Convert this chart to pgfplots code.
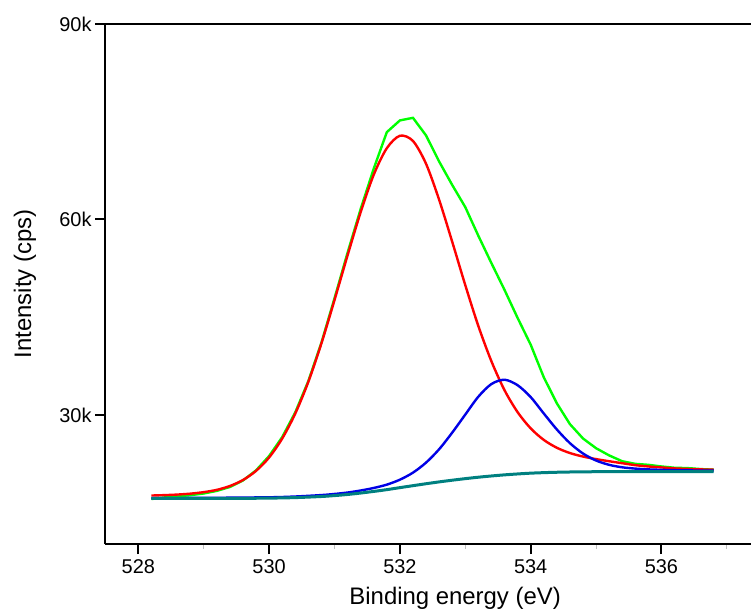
\documentclass[border=0pt]{standalone}
\usepackage{pgfplots}
\pgfplotsset{compat=1.18}
\usepackage{fontspec}
\setmainfont{Liberation Sans}
\usetikzlibrary{calc}
\definecolor{cgreen}{RGB}{0,255,0}
\definecolor{cred}{RGB}{255,0,0}
\definecolor{cblue}{RGB}{0,0,230}
\definecolor{cteal}{RGB}{0,128,128}
\begin{document}
\begin{tikzpicture}
\begin{axis}[
  scale only axis, width=646bp, height=520bp,
  xmin=527.49, xmax=537.37, ymin=10.2, ymax=90,
  axis x line*=box, axis y line*=left,
  axis line style={-, line width=2bp, black},
  tick pos=left, tick align=outside,
  major tick length=10bp, minor tick length=5bp,
  every major tick/.style={line width=2bp, black},
  every minor tick/.style={line width=1bp, black!25},
  xtick={528,530,532,534,536}, xticklabels={528,530,532,534,536},
  minor xtick={529,531,533,535,537},
  ytick={30,60,90}, yticklabels={30k,60k,90k},
  ticklabel style={font=\fontsize{20}{24}\selectfont},
  xticklabel style={yshift=-2bp},
  /pgf/number format/assume math mode=true,
  xlabel={Binding energy (eV)}, ylabel={Intensity (cps)},
  label style={font=\fontsize{24}{28}\selectfont},
  xlabel style={at={(axis description cs:0.542,-0.104)}, anchor=center},
  ylabel style={at={(axis description cs:-0.124,0.5)}, anchor=center},
  clip=false,
]
\addplot[cgreen, line width=2.4bp] coordinates {
(528.2,17.1)(528.4,17.35)(528.6,17.5)(528.8,17.7)(529.0,17.95)(529.2,18.35)(529.4,18.95)(529.6,19.95)(529.8,21.5)
(530.0,23.7)(530.2,26.6)(530.4,30.4)(530.6,35.2)(530.8,41.1)(531.0,47.9)(531.2,54.9)(531.4,61.6)(531.6,67.8)(531.8,73.4)
(532.0,75.2)(532.2,75.6)(532.4,72.9)(532.6,68.9)(532.8,65.3)(533.0,61.9)(533.2,57.5)(533.4,53.3)(533.6,49.2)(533.8,44.9)
(534.0,40.8)(534.2,35.8)(534.4,31.8)(534.6,28.6)(534.8,26.4)(535.0,24.9)(535.2,23.8)(535.4,22.9)(535.6,22.5)(535.8,22.35)
(536.0,22.1)(536.2,21.9)(536.4,21.85)(536.6,21.7)(536.8,21.6)};
\addplot[cred, line width=2.4bp, smooth] coordinates {
(528.2,17.64)(528.4,17.70)(528.6,17.79)(528.8,17.93)(529.0,18.16)(529.2,18.51)(529.4,19.10)(529.6,20.02)(529.8,21.42)
(530.0,23.48)(530.2,26.38)(530.4,30.22)(530.6,35.09)(530.8,40.99)(531.0,47.63)(531.2,54.5)(531.4,61.12)(531.6,66.87)(531.8,70.94)
(532.0,72.85)(532.2,72.05)(532.4,68.55)(532.6,63.03)(532.8,56.59)(533.0,49.93)(533.2,43.65)(533.4,38.24)(533.6,33.81)(533.8,30.44)
(534.0,27.95)(534.2,26.18)(534.4,24.97)(534.6,24.16)(534.8,23.62)(535.0,23.23)(535.2,22.9)(535.4,22.6)(535.6,22.3)(535.8,22.1)
(536.0,21.95)(536.2,21.8)(536.4,21.72)(536.6,21.65)(536.8,21.6)};
\addplot[cblue, line width=2.4bp, smooth] coordinates {
(528.2,17.25)(529.0,17.28)(530.0,17.37)(530.4,17.49)(530.8,17.71)(531.0,17.88)(531.2,18.10)(531.4,18.41)(531.6,18.80)(531.8,19.31)
(532.0,20.07)(532.2,21.15)(532.4,22.69)(532.6,24.74)(532.8,27.29)(533.0,30.06)(533.2,32.81)(533.4,34.75)(533.6,35.41)(533.8,34.57)
(534.0,32.75)(534.2,30.24)(534.4,27.78)(534.6,25.68)(534.8,24.09)(535.0,23.01)(535.2,22.35)(535.4,21.97)(535.6,21.77)(535.8,21.65)
(536.0,21.58)(536.2,21.53)(536.4,21.5)(536.6,21.47)(536.8,21.45)};
\addplot[cteal, line width=3bp, smooth] coordinates {
(528.2,17.20)(529.0,17.20)(529.6,17.21)(530.0,17.24)(530.4,17.32)(530.8,17.49)(531.0,17.63)(531.2,17.80)(531.4,18.02)(531.6,18.27)(531.8,18.54)
(532.0,18.85)(532.2,19.15)(532.4,19.45)(532.6,19.73)(532.8,19.99)(533.0,20.23)(533.2,20.45)(533.4,20.64)(533.6,20.81)(533.8,20.95)
(534.0,21.07)(534.2,21.15)(534.4,21.21)(534.6,21.25)(534.8,21.28)(535.0,21.29)(535.4,21.30)(536.0,21.30)(536.8,21.30)};
\end{axis}
\pgfresetboundingbox
\path[use as bounding box] ($(current axis.south west)+(-105bp,-71bp)$) rectangle ($(current axis.north east)+(0bp,24bp)$);
\end{tikzpicture}
\end{document}
